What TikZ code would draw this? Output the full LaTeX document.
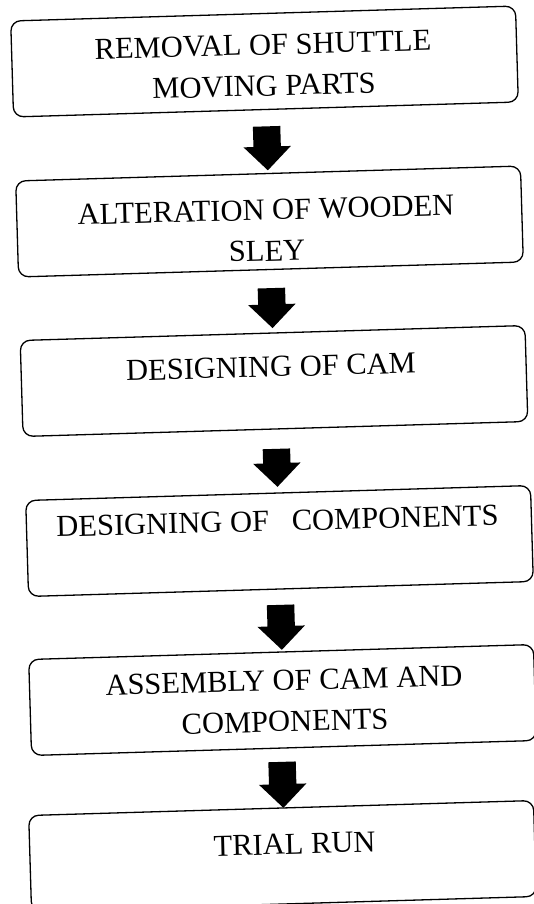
\documentclass[tikz,border=0pt]{standalone}
\usepackage{fontspec}
\setmainfont{Liberation Serif}
\usetikzlibrary{calc,shapes.arrows}
\tikzset{
  stepbox/.style={draw=black, line width=1.3pt, rounded corners=10pt, rectangle,
    minimum width=505pt, minimum height=96pt, inner sep=0pt, rotate=1.7},
  steptext/.style={align=center, inner sep=0pt, font=\fontsize{30.5}{41}\selectfont, rotate=1.5},
  blockarrow/.style={single arrow, fill=black, draw=none, inner sep=0pt,
    single arrow head extend=10pt, rotate=-88.3}
}
\begin{document}
\begin{tikzpicture}[x=1pt,y=-1pt]
\useasboundingbox (0,0) rectangle (534,904);
% boxes
\node[stepbox] (b1) at (264.5,61.5) {};
\node[stepbox] (b2) at (269.5,221.5) {};
\node[stepbox] (b3) at (274,381) {};
\node[stepbox] (b4) at (279.5,541) {};
\node[stepbox] (b5) at (282.5,700) {};
\node[stepbox] (b6) at (282.5,856) {};
% texts
\node[steptext] (t1) at ($(b1.center)+(-1,4)$) {REMOVAL OF SHUTTLE\\MOVING PARTS};
\node[steptext] (t2) at ($(b2.center)+(-3,9)$) {ALTERATION OF WOODEN\\SLEY};
\node[steptext] (t3) at ($(b3.center)+(-3,-14)$) {DESIGNING OF CAM};
\node[steptext] (t4) at ($(b4.center)+(-2,-20)$) {DESIGNING OF \ \ COMPONENTS};
\node[steptext] (t5) at ($(b5.center)+(2,1)$) {ASSEMBLY OF CAM AND\\COMPONENTS};
\node[steptext] (t6) at ($(b6.center)+(12,-12)$) {TRIAL RUN};
% arrows
\node[blockarrow, minimum height=44pt] (a1) at ($(b1.north)!0.5!(b2.south)$) {\rule{0pt}{27pt}};
\node[blockarrow, minimum height=40pt] (a2) at ($(b2.north)!0.5!(b3.south)$) {\rule{0pt}{27pt}};
\node[blockarrow, minimum height=38pt] (a3) at ($(b3.north)!0.5!(b4.south)$) {\rule{0pt}{27pt}};
\node[blockarrow, minimum height=45pt] (a4) at ($(b4.north)!0.5!(b5.south)$) {\rule{0pt}{27pt}};
\node[blockarrow, minimum height=46pt] (a5) at ($(b5.north)!0.5!(b6.south)$) {\rule{0pt}{27pt}};
\end{tikzpicture}
\end{document}
